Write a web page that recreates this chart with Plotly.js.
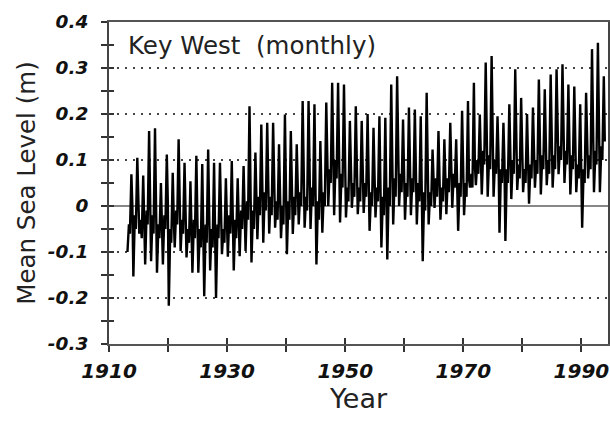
<!DOCTYPE html>
<html>
<head>
<meta charset="utf-8">
<script src="https://cdn.plot.ly/plotly-3.0.1.min.js"></script>
<style>html,body{margin:0;padding:0;background:#fff;}#chart{width:610px;height:423px;}</style>
</head>
<body>
<div id="chart"></div>
<script>
// Years covered by the monthly record
var years = [1913,1914,1915,1916,1917,1918,1919,1920,1921,1922,1923,1924,1925,1926,1927,1928,1929,1930,
  1931,1932,1933,1934,1935,1936,1937,1938,1939,1940,1941,1942,1943,1944,1945,1946,1947,1948,1949,1950,
  1951,1952,1953,1954,1955,1956,1957,1958,1959,1960,1961,1962,1963,1964,1965,1966,1967,1968,1969,1970,
  1971,1972,1973,1974,1975,1976,1977,1978,1979,1980,1981,1982,1983,1984,1985,1986,1987,1988,1989,1990,
  1991,1992,1993];
// Month at which each of the per-year readings sits
var readingMonths = [2, 5, 7, 10, 12];
// Winter low (Feb), m
var febLow = [-0.10,-0.153,-0.06,-0.127,-0.12,-0.145,-0.127,-0.217,-0.09,-0.098,-0.112,-0.145,-0.145,-0.196,-0.14,-0.20,-0.105,-0.11,
  -0.14,-0.109,-0.098,-0.123,-0.072,-0.08,-0.06,-0.047,-0.07,-0.105,-0.061,-0.04,-0.047,-0.05,-0.127,-0.058,0.00,-0.02,-0.036,-0.025,
  -0.004,-0.018,-0.015,-0.054,-0.025,-0.09,-0.116,-0.04,0.00,-0.03,-0.02,-0.04,-0.12,-0.04,-0.004,-0.03,-0.018,-0.004,-0.054,-0.02,
  0.04,0.045,0.025,0.02,0.02,-0.058,-0.076,0.015,0.035,0.03,0.005,0.04,0.025,0.045,0.04,0.069,0.05,0.025,0.03,-0.047,
  0.06,0.03,0.03];
// Spring level (May), m
var mayLevel = [-0.04,-0.02,-0.03,-0.01,-0.02,-0.04,-0.02,-0.05,-0.01,-0.03,-0.05,-0.03,-0.05,-0.04,-0.05,-0.04,-0.05,-0.02,
  -0.03,-0.01,0.01,-0.01,0.02,0.03,0.02,0.01,0.00,0.01,0.02,0.03,0.02,0.04,0.01,0.03,0.08,0.10,0.07,0.04,
  0.05,0.04,0.05,0.03,0.04,0.02,0.04,0.06,0.07,0.05,0.06,0.05,0.03,0.03,0.06,0.04,0.06,0.07,0.05,0.05,
  0.07,0.10,0.12,0.11,0.10,0.08,0.08,0.10,0.09,0.08,0.09,0.10,0.11,0.10,0.11,0.13,0.12,0.11,0.09,0.08,
  0.11,0.12,0.13];
// Summer level (Jul), m
var julLevel = [-0.06,-0.05,-0.07,-0.04,-0.06,-0.07,-0.05,-0.08,-0.04,-0.06,-0.08,-0.07,-0.09,-0.08,-0.09,-0.07,-0.08,-0.06,
  -0.07,-0.05,-0.03,-0.05,-0.02,-0.01,-0.02,-0.03,-0.04,-0.03,-0.02,0.00,-0.01,0.00,-0.03,0.00,0.05,0.06,0.04,0.01,
  0.02,0.01,0.02,0.00,0.01,-0.02,0.00,0.02,0.03,0.02,0.03,0.01,-0.01,0.00,0.02,0.01,0.03,0.04,0.02,0.02,
  0.04,0.07,0.09,0.08,0.07,0.05,0.05,0.07,0.06,0.05,0.06,0.07,0.08,0.07,0.08,0.10,0.09,0.08,0.06,0.05,
  0.08,0.09,0.10];
// Autumn high (Oct), m
var octHigh = [0.069,0.105,0.066,0.163,0.169,0.05,0.112,0.072,0.145,0.094,0.054,0.109,0.091,0.123,0.094,0.094,0.06,0.098,
  0.06,0.087,0.217,0.116,0.177,0.181,0.181,0.134,0.199,0.163,0.134,0.228,0.228,0.221,0.141,0.225,0.268,0.268,0.264,0.185,
  0.217,0.185,0.20,0.17,0.195,0.192,0.264,0.282,0.188,0.214,0.21,0.195,0.246,0.123,0.163,0.145,0.181,0.145,0.207,0.228,
  0.268,0.199,0.312,0.326,0.195,0.181,0.221,0.297,0.235,0.20,0.214,0.275,0.254,0.286,0.297,0.308,0.264,0.26,0.221,0.246,
  0.341,0.355,0.282];
// Early-winter level (Dec), m
var decLevel = [0.00,0.01,-0.02,0.03,0.00,-0.03,0.01,-0.02,0.02,-0.01,-0.03,-0.01,-0.04,-0.02,-0.03,-0.02,-0.04,-0.01,
  -0.02,0.00,0.04,0.02,0.05,0.06,0.04,0.03,0.02,0.03,0.04,0.05,0.04,0.06,0.03,0.07,0.11,0.12,0.10,0.06,
  0.06,0.05,0.06,0.04,0.05,0.03,0.06,0.08,0.06,0.07,0.06,0.05,0.06,0.04,0.05,0.05,0.07,0.06,0.07,0.06,
  0.09,0.11,0.14,0.13,0.11,0.10,0.10,0.12,0.11,0.10,0.11,0.12,0.12,0.11,0.13,0.15,0.14,0.12,0.10,0.10,
  0.13,0.15,0.14];
// Axis ticks
var xTickVals = [1910,1920,1930,1940,1950,1960,1970,1980,1990];
var xTickText = ["1910","","1930","","1950","","1970","","1990"];
var yTickVals = [-0.3,-0.2,-0.1,0,0.1,0.2,0.3,0.4];
var yTickText = ["-0.3","-0.2","-0.1","0","0.1","0.2","0.3","0.4"];
var yMinorVals = [-0.25,-0.15,-0.05,0.05,0.15,0.25,0.35];

// Assemble the time series in time order
var t = [], v = [];
var seriesByMonth = [febLow, mayLevel, julLevel, octHigh, decLevel];
for (var i = 0; i < years.length; i++) {
  for (var k = 0; k < readingMonths.length; k++) {
    t.push(years[i] + (readingMonths[k] - 0.5) / 12);
    v.push(seriesByMonth[k][i]);
  }
}

var FAM = 'DejaVu Sans, Verdana, sans-serif';
var tickFont = {family: FAM, size: 18.5, color: '#111', weight: 'bold', style: 'italic'};

var traces = [
  {x: t, y: v, type: 'scatter', mode: 'lines', line: {color: '#000', width: 2.4}, hoverinfo: 'skip', showlegend: false},
  {x: [], y: [], xaxis: 'x2', yaxis: 'y2', type: 'scatter', mode: 'lines', showlegend: false, hoverinfo: 'skip'}
];

var allY = yTickVals.concat(yMinorVals);

var layout = {
  width: 610, height: 423,
  margin: {l: 109, r: 2, t: 22, b: 79},
  paper_bgcolor: '#fff', plot_bgcolor: '#fff',
  showlegend: false,
  xaxis: {
    range: [1910, 1994.5], tickmode: 'array', tickvals: xTickVals, ticktext: xTickText,
    ticks: 'outside', ticklen: 6, tickwidth: 2, tickcolor: '#333',
    tickfont: Object.assign({}, tickFont, {size: 20}),
    showline: true, linecolor: '#555', linewidth: 2, mirror: true,
    showgrid: false, zeroline: false, ticklabelstandoff: 2,
    title: {text: 'Year', font: {family: FAM, size: 27, color: '#222'}, standoff: 7}
  },
  yaxis: {
    range: [-0.3, 0.4], tickmode: 'array', tickvals: yTickVals, ticktext: yTickText,
    ticks: 'outside', ticklen: 6, tickwidth: 2, tickcolor: '#333',
    minor: {tickmode: 'array', tickvals: yMinorVals, ticks: 'outside', ticklen: 6, tickwidth: 2, tickcolor: '#333', showgrid: false},
    tickfont: tickFont,
    showline: true, linecolor: '#444', linewidth: 2, mirror: true,
    showgrid: true, gridcolor: '#444', gridwidth: 1.5, griddash: '2px,6px',
    zeroline: true, zerolinecolor: '#888', zerolinewidth: 2,
    ticklabelstandoff: 9,
    title: {text: 'Mean Sea Level (m)', font: {family: FAM, size: 24.5, color: '#222'}, standoff: 5}
  },
  xaxis2: {
    overlaying: 'x', anchor: 'y2', side: 'bottom', range: [1910, 1994.5],
    tickmode: 'array', tickvals: xTickVals, ticks: 'inside', ticklen: 6, tickwidth: 2, tickcolor: '#333',
    showticklabels: false, showgrid: false, zeroline: false, showline: false
  },
  yaxis2: {
    overlaying: 'y', anchor: 'x2', side: 'left', range: [-0.3, 0.4],
    tickmode: 'array', tickvals: allY, ticks: 'inside', ticklen: 5, tickwidth: 2, tickcolor: '#333',
    showticklabels: false, showgrid: false, zeroline: false, showline: false
  },
  annotations: [
    {xref: 'paper', yref: 'paper', x: 0.034, y: 0.928, xanchor: 'left', yanchor: 'middle', showarrow: false,
     text: 'Key West\u00a0\u00a0(monthly)', font: {family: FAM, size: 24.5, color: '#222'}}
  ]
};

Plotly.newPlot('chart', traces, layout, {staticPlot: true, displayModeBar: false});
</script>
</body>
</html>
